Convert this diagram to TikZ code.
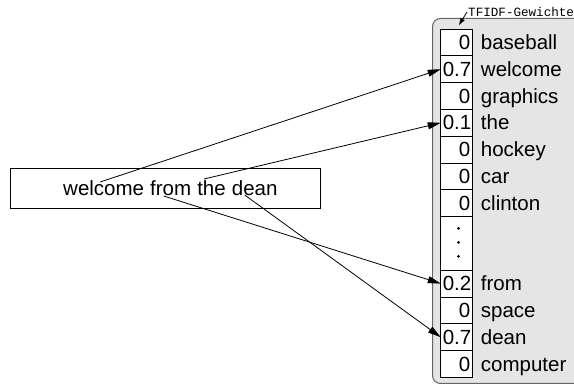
\documentclass[tikz,border=0pt]{standalone}
\usepackage{fontspec}
\setmainfont{Liberation Sans}
\setmonofont{Liberation Mono}
\usetikzlibrary{positioning, arrows.meta}
\tikzstyle{panel} = [rectangle, rounded corners=8pt, draw=black!60, fill=black!10, line width=1pt, minimum width=180pt, minimum height=365pt, anchor=north west]
\tikzstyle{cell} = [rectangle, draw=black, fill=white, line width=0.9pt, minimum height=26.8pt, text width=27.5pt, inner xsep=2pt, inner ysep=0pt, outer sep=0pt, align=right, font=\fontsize{20.5}{24}\selectfont]
\tikzstyle{term} = [anchor=base west, inner sep=0pt, font=\fontsize{20.5}{24}\selectfont]
\tikzstyle{querybox} = [rectangle, draw=black, line width=0.8pt, minimum width=310pt, minimum height=40pt]
\tikzstyle{word} = [inner sep=0pt, font=\fontsize{20.5}{24}\selectfont]
\tikzstyle{dot} = [circle, fill=black, inner sep=0pt, minimum size=3pt]
\tikzstyle{arrow} = [line width=0.8pt, -{Stealth[length=13pt, width=7pt, inset=0pt]}]
\tikzstyle{smallarrow} = [line width=0.8pt, -{Stealth[length=7pt, width=4.5pt, inset=0pt]}]

\begin{document}
\begin{tikzpicture}[x=1pt, y=-1pt]
\path[use as bounding box, clip] (0,0) rectangle (574,387);

% Panel with weights
\node (panel) [panel] at (432,18) {};
\node (tfidf) [anchor=west, inner sep=0pt, font=\ttfamily\fontsize{12.6}{14}\selectfont] at (468,12) {TFIDF-Gewichte};

% Weight cells
\node (cbaseball) [cell] at (456.5,42.4) {0};
\node (cwelcome) [cell, below=0pt of cbaseball] {0.7};
\node (cgraphics) [cell, below=0pt of cwelcome] {0};
\node (cthe) [cell, below=0pt of cgraphics] {0.1};
\node (chockey) [cell, below=0pt of cthe] {0};
\node (ccar) [cell, below=0pt of chockey] {0};
\node (cclinton) [cell, below=0pt of ccar] {0};
\node (cgap) [cell, below=0pt of cclinton, minimum height=53.6pt] {};
\node (cfrom) [cell, below=0pt of cgap] {0.2};
\node (cspace) [cell, below=0pt of cfrom] {0};
\node (cdean) [cell, below=0pt of cspace] {0.7};
\node (ccomputer) [cell, below=0pt of cdean] {0};
\node (dot1) [dot] at ([shift={(2,-15)}]cgap.center) {};
\node (dot2) [dot] at ([shift={(2,-1)}]cgap.center) {};
\node (dot3) [dot] at ([shift={(2,13)}]cgap.center) {};

% Terms
\node (lbaseball) [term] at ([xshift=8.5pt]cbaseball.base east) {baseball};
\node (lwelcome) [term] at ([xshift=8.5pt]cwelcome.base east) {welcome};
\node (lgraphics) [term] at ([xshift=8.5pt]cgraphics.base east) {graphics};
\node (lthe) [term] at ([xshift=8.5pt]cthe.base east) {the};
\node (lhockey) [term] at ([xshift=8.5pt]chockey.base east) {hockey};
\node (lcar) [term] at ([xshift=8.5pt]ccar.base east) {car};
\node (lclinton) [term] at ([xshift=8.5pt]cclinton.base east) {clinton};
\node (lfrom) [term] at ([xshift=8.5pt]cfrom.base east) {from};
\node (lspace) [term] at ([xshift=8.5pt]cspace.base east) {space};
\node (ldean) [term] at ([xshift=8.5pt]cdean.base east) {dean};
\node (lcomputer) [term] at ([xshift=8.5pt]ccomputer.base east) {computer};

% Query
\node (query) [querybox] at (165,188) {};
\node (qwelcome) [word, anchor=base west] at (63,196) {welcome};
\node (qfrom) [word, base right=5.7pt of qwelcome] {from};
\node (qthe) [word, base right=5.7pt of qfrom] {the};
\node (qdean) [word, base right=5.7pt of qthe] {dean};

% Arrows
\draw [smallarrow] ([xshift=-1pt]tfidf.west) -- ([shift={(27,7)}]panel.north west);
\draw [arrow] ([shift={(-3.5,-14)}]qwelcome.base) -- (cwelcome.west);
\draw [arrow] ([shift={(-7.5,-17)}]qthe.base) -- (cthe.west);
\draw [arrow] ([shift={(-7,0)}]qfrom.base) -- (cfrom.west);
\draw [arrow] ([shift={(-10,-1)}]qdean.base) -- (cdean.west);

\end{tikzpicture}
\end{document}
